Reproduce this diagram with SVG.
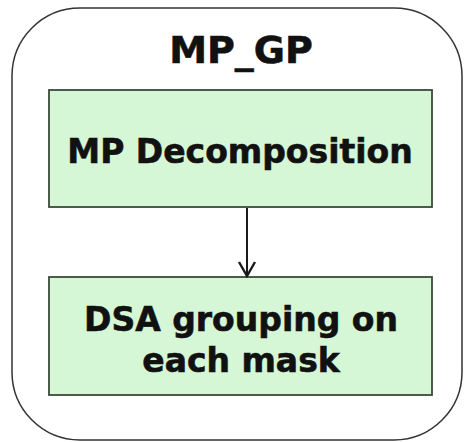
<svg xmlns="http://www.w3.org/2000/svg" width="465" height="442" viewBox="0 0 465 442">
  <style>
    .frame { fill: #ffffff; stroke: #333333; stroke-width: 1.5; }
    .step { fill: #d6f7d6; stroke: #3a4a3a; stroke-width: 1.8; }
    .label { font-family: "DejaVu Sans", Verdana, sans-serif; font-weight: bold; fill: #111111; stroke: #111111; stroke-width: 0.6; text-anchor: middle; }
    .edge { stroke: #1a1a1a; stroke-width: 2; fill: none; }
  </style>
  <defs>
    <!-- open chevron head, drawn along +x so orient="auto" turns it with the line -->
    <marker id="chevron" viewBox="0 0 20 20" refX="18" refY="10" markerWidth="20" markerHeight="20" markerUnits="userSpaceOnUse" orient="auto">
      <path d="M4,2 L18,10 L4,18" fill="none" stroke="#1a1a1a" stroke-width="2.4"/>
    </marker>
  </defs>
  <rect width="465" height="442" fill="#ffffff"/>

  <g id="mp_gp">
    <rect class="frame" x="12" y="8" width="450" height="432" rx="68" ry="68"/>
    <text class="label" x="241" y="63" font-size="38">MP_GP</text>
  </g>

  <g id="mp_decomposition">
    <rect class="step" x="49" y="90" width="383" height="117"/>
    <text class="label" x="240" y="163" font-size="33">MP Decomposition</text>
  </g>

  <g id="dsa_grouping">
    <rect class="step" x="49" y="277" width="383" height="118"/>
    <text class="label" x="241" y="331" font-size="33">DSA grouping on</text>
    <text class="label" x="241" y="372" font-size="33">each mask</text>
  </g>

  <g id="connectors">
    <line class="edge" x1="247" y1="208" x2="247" y2="276" marker-end="url(#chevron)"/>
  </g>
</svg>
